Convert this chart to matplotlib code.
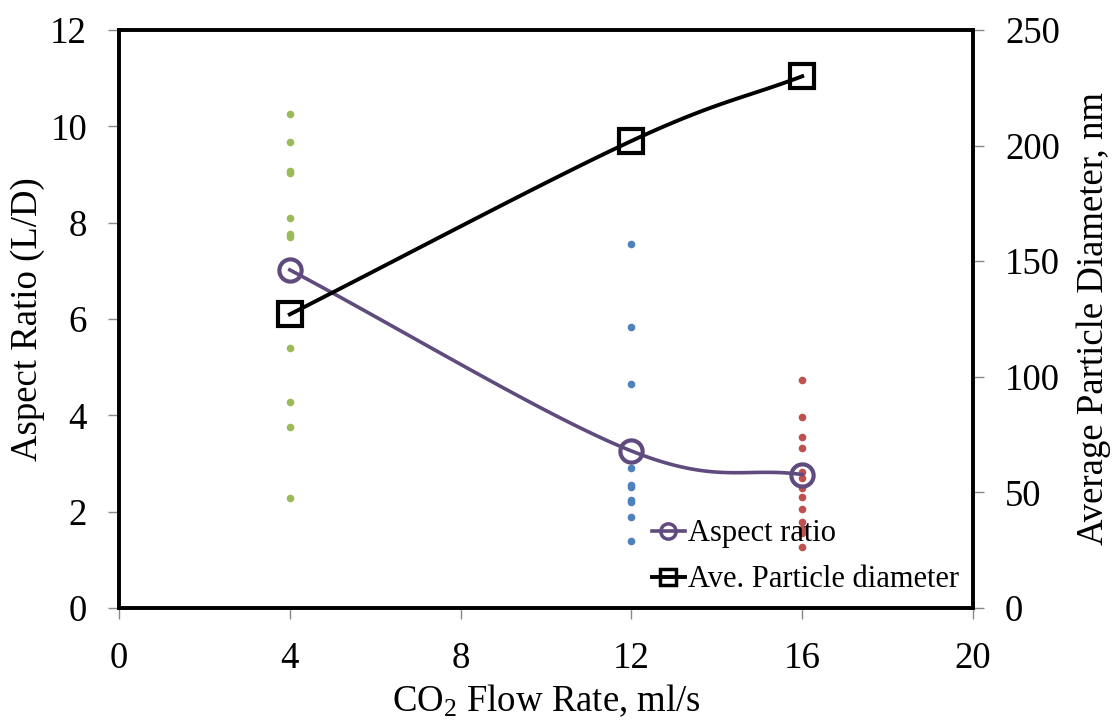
import numpy as np
import matplotlib
matplotlib.use("Agg")
import matplotlib.pyplot as plt
from matplotlib.lines import Line2D

plt.rcParams["font.family"] = ["Liberation Serif", "DejaVu Serif"]
plt.rcParams["mathtext.fontset"] = "custom"
plt.rcParams["mathtext.rm"] = "Liberation Serif"
plt.rcParams["mathtext.it"] = "Liberation Serif:italic"

# Individual aspect-ratio measurements at each flow rate
flow_green = 4
ar_green = [10.26, 9.68, 9.08, 9.03, 8.09, 7.76, 7.71, 5.39, 4.28, 3.76, 2.28]
flow_blue = 12
ar_blue = [7.56, 5.84, 4.64, 2.90, 2.56, 2.51, 2.25, 2.20, 1.88, 1.40]
flow_red = 16
ar_red = [4.73, 3.96, 3.54, 3.32, 2.83, 2.69, 2.49, 2.31, 2.05, 1.79, 1.65, 1.55, 1.26]

# Mean values
flow_rates = [4, 12, 16]
aspect_ratio = [7.02, 3.26, 2.77]
particle_diameter = [127, 202, 230]

x_ticks = [0, 4, 8, 12, 16, 20]
y_left_ticks = [0, 2, 4, 6, 8, 10, 12]
y_right_ticks = [0, 50, 100, 150, 200, 250]


def smooth(xs, ys, n=60):
    """Catmull-Rom style smoothing through the given points."""
    xs = np.asarray(xs, float)
    ys = np.asarray(ys, float)
    px = np.concatenate([[2 * xs[0] - xs[1]], xs, [2 * xs[-1] - xs[-2]]])
    py = np.concatenate([[2 * ys[0] - ys[1]], ys, [2 * ys[-1] - ys[-2]]])
    outx, outy = [], []
    for i in range(1, len(px) - 2):
        t = np.linspace(0, 1, n)
        p0x, p1x, p2x, p3x = px[i - 1:i + 3]
        p0y, p1y, p2y, p3y = py[i - 1:i + 3]
        c1x = p1x + (p2x - p0x) / 6
        c1y = p1y + (p2y - p0y) / 6
        c2x = p2x - (p3x - p1x) / 6
        c2y = p2y - (p3y - p1y) / 6
        bx = (1 - t) ** 3 * p1x + 3 * (1 - t) ** 2 * t * c1x + 3 * (1 - t) * t ** 2 * c2x + t ** 3 * p2x
        by = (1 - t) ** 3 * p1y + 3 * (1 - t) ** 2 * t * c1y + 3 * (1 - t) * t ** 2 * c2y + t ** 3 * p2y
        outx.append(bx)
        outy.append(by)
    return np.concatenate(outx), np.concatenate(outy)


fig = plt.figure(figsize=(11.16, 7.2), dpi=100)
ax = fig.add_axes([0.1066, 0.1556, 0.7653, 0.8027])
ax2 = ax.twinx()

purple = "#5F4B7E"
dot_ms = 5.5
ax.plot([flow_green] * len(ar_green), ar_green, "o", color="#9BBB59", ms=dot_ms, mec="none")
ax.plot([flow_blue] * len(ar_blue), ar_blue, "o", color="#4F81BD", ms=dot_ms, mec="none")
ax.plot([flow_red] * len(ar_red), ar_red, "o", color="#C0504D", ms=dot_ms, mec="none")

sx, sy = smooth(flow_rates, aspect_ratio)
ax.plot(sx, sy, color=purple, lw=2.6, zorder=3)
ax.plot(flow_rates, aspect_ratio, "o", ms=16, mfc="none", mec=purple, mew=3, zorder=4)

dx, dy = smooth(flow_rates, particle_diameter)
ax2.plot(dx, dy, color="black", lw=2.8, zorder=3)
ax2.plot(flow_rates, particle_diameter, "s", ms=17, mfc="none", mec="black", mew=3, zorder=4)

ax.set_xlim(0, 20)
ax.set_ylim(0, 12)
ax2.set_ylim(0, 250)
ax.set_xticks(x_ticks)
ax.set_yticks(y_left_ticks)
ax2.set_yticks(y_right_ticks)

for a in (ax, ax2):
    for s in a.spines.values():
        s.set_linewidth(2.6)
        s.set_color("black")
    a.tick_params(labelsize=26.5, direction="out", length=8, width=1, color="#888888", pad=15)
ax.tick_params(axis="x", pad=16)

ax.set_xlabel(r"CO$_2$ Flow Rate, ml/s", fontsize=26.5, labelpad=5)
ax.set_ylabel("Aspect Ratio (L/D)", fontsize=26.5, labelpad=4)
ax2.set_ylabel("Average Particle Diameter, nm", fontsize=26.5, labelpad=12)

handles = [
    Line2D([], [], color=purple, lw=2.6, marker="o", ms=11, mfc="none", mec=purple, mew=2.5),
    Line2D([], [], color="black", lw=2.8, marker="s", ms=11, mfc="none", mec="black", mew=2.5),
]
ax2.legend(handles, ["Aspect ratio", "Ave. Particle diameter"], loc="lower right",
           bbox_to_anchor=(1.0, 0.0), frameon=False, fontsize=22, handlelength=1.1,
           handletextpad=0.1, labelspacing=0.55, borderaxespad=0.05)

fig.savefig("out.png", dpi=100)
